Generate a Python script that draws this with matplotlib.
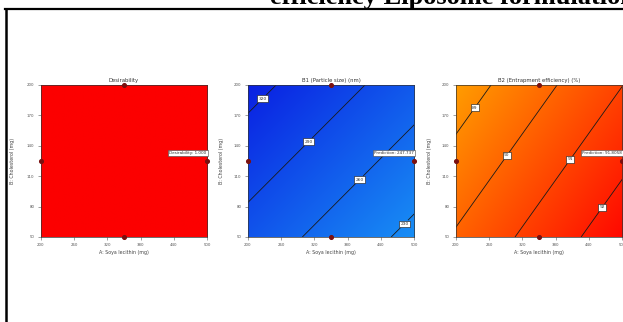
import numpy as np
import matplotlib
matplotlib.use("Agg")
import matplotlib.pyplot as plt
from matplotlib.colors import LinearSegmentedColormap
from matplotlib.lines import Line2D

# Factor ranges and ticks
soya_range = [200, 500]          # A: Soya lecithin (mg)
chol_range = [50, 200]           # B: Cholesterol (mg)
x_ticks = [200, 260, 320, 380, 440, 500]
y_ticks = [50, 80, 110, 140, 170, 200]

# Design points shown on each plot
design_soya = [350, 350, 200, 500]
design_chol = [200, 50, 125, 125]

# Fitted linear models: response = b0 + bA*A + bB*B
size_coef = [298.9, -0.1875, 0.341]      # B1 Particle size (nm)
ee_coef = [88.968, 0.0084, -0.01091]     # B2 Entrapment efficiency (%)
desirability_value = 1.0

# Contour levels and label anchor points
size_levels = [230, 260, 290, 320]
size_label_pts = [(482, 63), (401, 107), (306, 146), (222, 189)]
ee_levels = [89, 90, 91, 92]
ee_label_pts = [(233, 178), (291, 131), (405, 127), (462, 80)]

# Prediction flags
flag_point = (500, 133)
flag_texts = ["Desirability: 1.000", "Prediction: 247.737", "Prediction: 91.8058"]

titles = ["Desirability", "B1 (Particle size) (nm)", "B2 (Entrapment efficiency) (%)"]

W, H = 623, 322
fig = plt.figure(figsize=(W / 100, H / 100), dpi=100)
fig.patch.set_facecolor("white")

# Page heading (partly outside the page area) and the surrounding box
fig.text(270 / W, 1 - 4 / H, "efficiency Liposome formulation",
         family="Liberation Serif", weight="bold", fontsize=19,
         ha="left", va="baseline", color="black")
fig.add_artist(Line2D([5 / W, 1.0], [1 - 8.5 / H, 1 - 8.5 / H],
                      transform=fig.transFigure, color="black", lw=1.6))
fig.add_artist(Line2D([5.5 / W, 5.5 / W], [0, 1 - 8.5 / H],
                      transform=fig.transFigure, color="black", lw=1.8))

gx = np.linspace(soya_range[0], soya_range[1], 301)
gy = np.linspace(chol_range[0], chol_range[1], 301)
GX, GY = np.meshgrid(gx, gy)

size_grid = size_coef[0] + size_coef[1] * GX + size_coef[2] * GY
ee_grid = ee_coef[0] + ee_coef[1] * GX + ee_coef[2] * GY
des_grid = np.full_like(GX, desirability_value)

cmap_des = LinearSegmentedColormap.from_list("des", ["#fc0000", "#fc0000"])
cmap_size = LinearSegmentedColormap.from_list("size", ["#188ef5", "#0a20e2"])
cmap_ee = LinearSegmentedColormap.from_list("ee", ["#ff9c00", "#ff0800"])

lefts = [40.7, 247.7, 455.7]
ax_w, ax_top, ax_bot = 166.6, 85, 237
ylab_off = [-0.172, -0.158, -0.16]

grids = [des_grid, size_grid, ee_grid]
cmaps = [cmap_des, cmap_size, cmap_ee]

for i in range(3):
    ax = fig.add_axes([lefts[i] / W, 1 - ax_bot / H, ax_w / W, (ax_bot - ax_top) / H])
    grid = grids[i]
    ax.imshow(grid, origin="lower", aspect="auto", cmap=cmaps[i],
              extent=[soya_range[0], soya_range[1], chol_range[0], chol_range[1]],
              interpolation="bilinear")

    if i == 1:
        levels, pts = size_levels, size_label_pts
    elif i == 2:
        levels, pts = ee_levels, ee_label_pts
    else:
        levels, pts = None, None
    if levels is not None:
        cs = ax.contour(GX, GY, grid, levels=levels, colors="#1a1a1a", linewidths=0.6)
        labels = ax.clabel(cs, fmt="%d", fontsize=3.2, inline=True, inline_spacing=1,
                           manual=pts)
        for t in labels:
            t.set_bbox(dict(boxstyle="square,pad=0.3", fc="white", ec="#222222", lw=0.45))
            t.set_color("#333333")
            t.set_rotation(0)

    ax.scatter(design_soya, design_chol, s=7, color="#7a1010", zorder=5, clip_on=False)

    ax.text(flag_point[0] - 1, flag_point[1], flag_texts[i], fontsize=3.0, color="#333333",
            ha="right", va="center", zorder=6,
            bbox=dict(boxstyle="square,pad=0.25", fc="white", ec="#444444", lw=0.4))

    ax.set_xlim(soya_range)
    ax.set_ylim(chol_range)
    ax.set_xticks(x_ticks)
    ax.set_yticks(y_ticks)
    ax.tick_params(direction="out", length=2, width=0.4, pad=2.5,
                   labelsize=2.8, colors="#555555")
    for sp in ax.spines.values():
        sp.set_linewidth(0.5)
        sp.set_color("#333333")

    ax.set_xlabel("A: Soya lecithin (mg)", fontsize=3.4, color="#444444")
    ax.xaxis.set_label_coords(0.5, -0.103)
    ax.xaxis.label.set_va("center")
    ax.set_ylabel("B: Cholesterol (mg)", fontsize=3.4, color="#444444")
    ax.yaxis.set_label_coords(ylab_off[i], 0.5)
    ax.yaxis.label.set_va("center")
    ax.text(0.5, 1 + 4.3 / 152, titles[i], transform=ax.transAxes,
            fontsize=3.8, color="#333333", ha="center", va="center")

fig.savefig("out.png", dpi=100)
